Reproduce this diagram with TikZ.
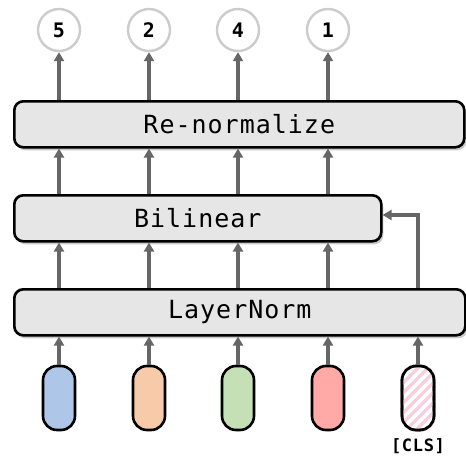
\documentclass[tikz,border=0pt]{standalone}
\usepackage{fontspec}
\setmonofont{DejaVu Sans Mono}
\usetikzlibrary{arrows.meta,shadows}
\definecolor{arr}{HTML}{666666}
\definecolor{boxfill}{HTML}{E6E6E6}
\definecolor{ringc}{HTML}{CCCCCC}
\definecolor{pblue}{HTML}{AEC6E8}
\definecolor{porange}{HTML}{F7CBAA}
\definecolor{pgreen}{HTML}{C5E0B4}
\definecolor{pred}{HTML}{FFAAA6}
\definecolor{ppink}{HTML}{F8CFDD}
\newcommand\boxfont{\ttfamily\fontsize{25}{27}\selectfont\addfontfeature{LetterSpace=4}}
\tikzset{
  layerbox/.style={draw=black, line width=2.6pt, fill=boxfill, rounded corners=9pt,
    minimum height=46pt, inner sep=0pt, anchor=north west,
    drop shadow={shadow xshift=2pt, shadow yshift=-3pt, opacity=0.35, fill=black!60}},
  boxtext/.style={font=\boxfont},
  pill/.style={draw=black, line width=2.6pt, rounded corners=14pt,
    minimum width=32pt, minimum height=64pt, inner sep=0pt},
  outc/.style={circle, draw=ringc, line width=2.4pt, fill=white, minimum size=42pt, inner sep=0pt,
    font=\ttfamily\bfseries\fontsize{20}{22}\selectfont},
  conn/.style={draw=arr, line width=3.4pt, -{Triangle[width=10pt,length=9pt]}},
  clslabel/.style={font=\ttfamily\bfseries\fontsize{17}{18}\selectfont\addfontfeature{LetterSpace=4}}
}
\begin{document}
\begin{tikzpicture}[x=1pt,y=-1pt]
\useasboundingbox (0,0) rectangle (466,458);
% boxes
\node[layerbox, minimum width=450pt] (rn) at (13,100) {};
\node[boxtext] (rnt) at (rn.center) {Re-normalize};
\node[layerbox, minimum width=367pt] (bl) at (13,194) {};
\node[boxtext] (blt) at (bl.center) {Bilinear};
\node[layerbox, minimum width=451pt] (ln) at (13,288) {};
\node[boxtext] (lnt) at (ln.center) {LayerNorm};
% output circles
\node[outc] (o1) at (59,30) {5};
\node[outc] (o2) at (149,30) {2};
\node[outc] (o3) at (238,30) {4};
\node[outc] (o4) at (328,30) {1};
% pills
\node[pill, fill=pblue] (p1) at (59,398) {};
\node[pill, fill=porange] (p2) at (149,398) {};
\node[pill, fill=pgreen] (p3) at (238,398) {};
\node[pill, fill=pred] (p4) at (328,398) {};
\node[pill, fill=white] (p5) at (418,398) {};
\begin{scope}
  \clip[rounded corners=14pt] (p5.south west) rectangle (p5.north east);
  \foreach \k in {-6,...,6} {
    \draw[ppink, line width=3.5pt] ({418-40+\k*10},{398+40}) -- ({418+40+\k*10},{398-40});
  }
\end{scope}
\node[pill] (p5b) at (418,398) {};
\node[clslabel] (cls) at (418,446) {[CLS]};
% connectors
\foreach \i in {1,2,3,4} {
  \draw[conn] (p\i.north) -- (ln.south west -| p\i.north);
  \draw[conn] (ln.north west -| p\i.north) -- (bl.south west -| p\i.north);
  \draw[conn] (bl.north west -| p\i.north) -- (rn.south west -| p\i.north);
  \draw[conn] (rn.north west -| p\i.north) -- (o\i.south);
}
\draw[conn] (p5.north) -- (ln.south west -| p5.north);
\coordinate (turn) at (418,215);
\draw[conn] (ln.north west -| p5.north) -- (turn) -- (bl.east |- turn);
\end{tikzpicture}
\end{document}
